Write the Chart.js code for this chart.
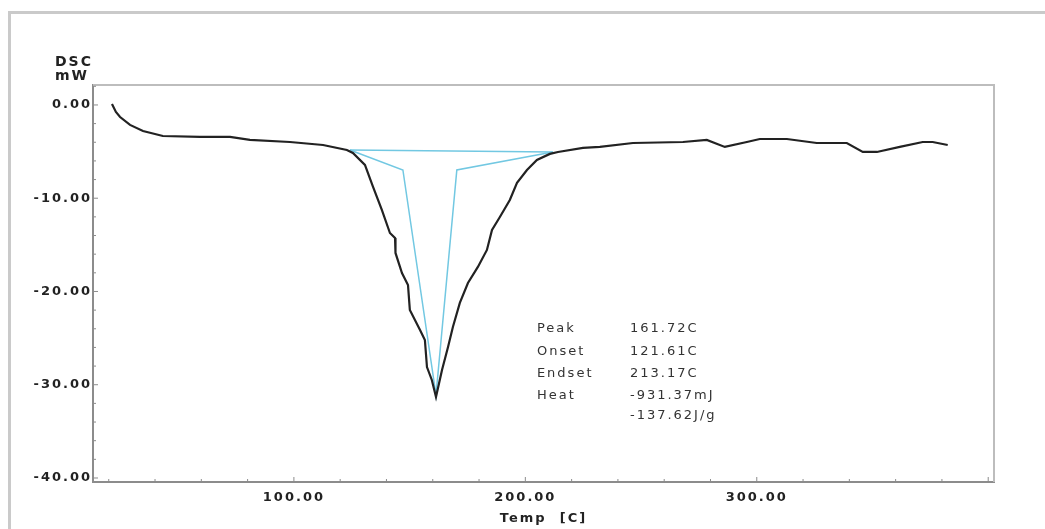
<!DOCTYPE html>
<html>
<head>
<meta charset="utf-8">
<script src="https://cdn.jsdelivr.net/npm/chart.js@4"></script>
<style>
    body { margin: 0; background: #fff; overflow: hidden; }
    #frame { position: absolute; left: 8px; top: 11px; width: 1100px; height: 600px;
             border-left: 3px solid #cacaca; border-top: 3px solid #cacaca; }
    #dsc { position: absolute; left: 0; top: 0; }
</style>
</head>
<body>
<div id="frame"></div>
<canvas id="dsc" width="1045" height="529"></canvas>
<script>
// DSC curve (temperature in C, heat flow in mW)
const tempC = [21.4, 23.1, 24.9, 29.2, 34.8, 43.4, 59.4, 72.4, 81.0, 98.3, 112.6, 122.9,
    125.5, 130.7, 134.2, 138.0, 141.5, 143.7, 143.9, 146.7, 149.3, 150.1, 154.5, 156.6, 157.5, 159.6,
    161.4, 164.0, 166.6, 168.7, 171.7, 175.2, 179.5, 183.4, 185.6, 189.0, 193.3, 196.4, 200.7,
    205.0, 210.6, 214.1, 224.9, 232.2, 246.5, 268.1, 278.4, 286.2, 295.7, 301.3, 313.0, 325.9,
    338.9, 345.8, 351.9, 361.8, 371.7, 376.0, 382.5];
const dscMW = [0.1, -0.75, -1.29, -2.14, -2.79, -3.33, -3.43, -3.43, -3.75, -3.97, -4.29, -4.83,
    -5.15, -6.43, -8.79, -11.26, -13.73, -14.26, -15.87, -18.02, -19.30, -21.98, -24.13, -25.20, -28.10, -29.49,
    -31.31, -28.42, -25.95, -23.81, -21.23, -19.09, -17.37, -15.55, -13.40, -12.01, -10.19, -8.36, -6.97,
    -5.90, -5.25, -5.04, -4.61, -4.50, -4.08, -3.97, -3.75, -4.50, -3.97, -3.65, -3.65, -4.08,
    -4.08, -5.04, -5.04, -4.50, -3.97, -3.97, -4.29];

// peak analysis lines (baseline and onset/endset construction)
const baseT = [124.2, 211.9];
const baseY = [-4.83, -5.04];
const constT = [124.2, 147.1, 161.4, 170.4, 211.9];
const constY = [-4.83, -6.97, -31.1, -6.97, -5.04];

const infoLabels = ['Peak', 'Onset', 'Endset', 'Heat', ''];
const infoValues = ['161.72C', '121.61C', '213.17C', '-931.37mJ', '-137.62J/g'];

const xMin = 13.2, xMax = 402.5;
const yMin = -40.43, yMax = 2.14;
const xLabelled = [100, 200, 300];

const toPts = (xs, ys) => xs.map((x, i) => ({ x: x, y: ys[i] }));

Chart.defaults.font.family = "'DejaVu Sans', sans-serif";
Chart.defaults.color = '#222';

// в растре текст растянут по горизонтали, поэтому добавляем межбуквенный интервал
const spacingPlugin = {
    id: 'spacing',
    beforeUpdate(chart) { chart.ctx.letterSpacing = '2px'; },
    beforeDraw(chart) { chart.ctx.letterSpacing = '2px'; }
};

const decorPlugin = {
    id: 'decor',
    afterDraw(chart) {
        const ctx = chart.ctx;
        const a = chart.chartArea;
        const xs = chart.scales.x, ys = chart.scales.y;
        ctx.save();

        // top/right frame of the plot box
        ctx.strokeStyle = '#bdbdbd';
        ctx.lineWidth = 2;
        ctx.beginPath();
        ctx.moveTo(a.left, a.top);
        ctx.lineTo(a.right, a.top);
        ctx.lineTo(a.right, a.bottom);
        ctx.stroke();

        // inward tick marks
        ctx.strokeStyle = '#8c8c8c';
        ctx.lineWidth = 1;
        xs.ticks.forEach(t => {
            const px = xs.getPixelForValue(t.value);
            const len = t.value % 100 === 0 ? 5 : 3;
            ctx.beginPath();
            ctx.moveTo(px, a.bottom);
            ctx.lineTo(px, a.bottom - len);
            ctx.stroke();
        });
        ys.ticks.forEach(t => {
            const py = ys.getPixelForValue(t.value);
            const len = t.value % 10 === 0 ? 5 : 3;
            ctx.beginPath();
            ctx.moveTo(a.left, py);
            ctx.lineTo(a.left + len, py);
            ctx.stroke();
        });

        // axis unit label
        ctx.fillStyle = '#222';
        ctx.letterSpacing = '2px';
        ctx.font = "bold 14px 'DejaVu Sans'";
        ctx.textBaseline = 'middle';
        ctx.textAlign = 'left';
        ctx.fillText('DSC', a.left - 38, a.top - 23);
        ctx.fillText('mW', a.left - 38, a.top - 9);

        // peak info block
        ctx.fillStyle = '#333';
        ctx.font = "13px 'DejaVu Sans'";
        const lx = xs.getPixelForValue(205.0);
        const vx = xs.getPixelForValue(245.2);
        const y0 = ys.getPixelForValue(-24.0);
        const rowY = [0, 23, 45, 67, 87];
        infoLabels.forEach((lab, i) => {
            ctx.fillText(lab, lx, y0 + rowY[i]);
            ctx.fillText(infoValues[i], vx, y0 + rowY[i]);
        });
        ctx.restore();
    }
};

new Chart(document.getElementById('dsc'), {
    type: 'line',
    data: {
        datasets: [
            {
                data: toPts(tempC, dscMW),
                borderColor: '#222',
                borderWidth: 2.2,
                pointRadius: 0,
                tension: 0,
                order: 0
            },
            {
                data: toPts(baseT, baseY),
                borderColor: '#72c8e2',
                borderWidth: 1.5,
                pointRadius: 0,
                order: 1
            },
            {
                data: toPts(constT, constY),
                borderColor: '#72c8e2',
                borderWidth: 1.5,
                pointRadius: 0,
                order: 1
            }
        ]
    },
    options: {
        responsive: false,
        animation: false,
        devicePixelRatio: 1,
        layout: { padding: { left: 0, top: 85, right: 51, bottom: 0 } },
        plugins: {
            legend: { display: false },
            tooltip: { enabled: false }
        },
        scales: {
            x: {
                type: 'linear',
                min: xMin,
                max: xMax,
                afterBuildTicks: axis => {
                    axis.ticks = axis.ticks.filter(t => Math.abs(t.value / 20 - Math.round(t.value / 20)) < 1e-6);
                },
                afterFit: axis => { axis.height = 47; },
                grid: { drawOnChartArea: false, drawTicks: false },
                border: { color: '#8c8c8c', width: 2 },
                ticks: {
                    stepSize: 20,
                    includeBounds: false,
                    autoSkip: false,
                    maxRotation: 0,
                    padding: 8,
                    font: { size: 13, weight: 'bold' },
                    color: '#222',
                    callback: v => (xLabelled.includes(v) ? v.toFixed(2) : '')
                },
                title: {
                    display: true,
                    text: 'Temp  [C]',
                    font: { size: 13, weight: 'bold' },
                    color: '#222',
                    padding: { top: 0, bottom: 3 }
                }
            },
            y: {
                type: 'linear',
                min: yMin,
                max: yMax,
                afterBuildTicks: axis => {
                    axis.ticks = axis.ticks.filter(t => Math.abs(t.value / 2 - Math.round(t.value / 2)) < 1e-6);
                },
                afterFit: axis => { axis.width = 93; },
                grid: { drawOnChartArea: false, drawTicks: false },
                border: { color: '#8c8c8c', width: 2 },
                ticks: {
                    stepSize: 2,
                    includeBounds: false,
                    autoSkip: false,
                    padding: 1,
                    font: { size: 13, weight: 'bold' },
                    color: '#222',
                    callback: v => (v % 10 === 0 ? v.toFixed(2) : '')
                }
            }
        }
    },
    plugins: [spacingPlugin, decorPlugin]
});
</script>
</body>
</html>
